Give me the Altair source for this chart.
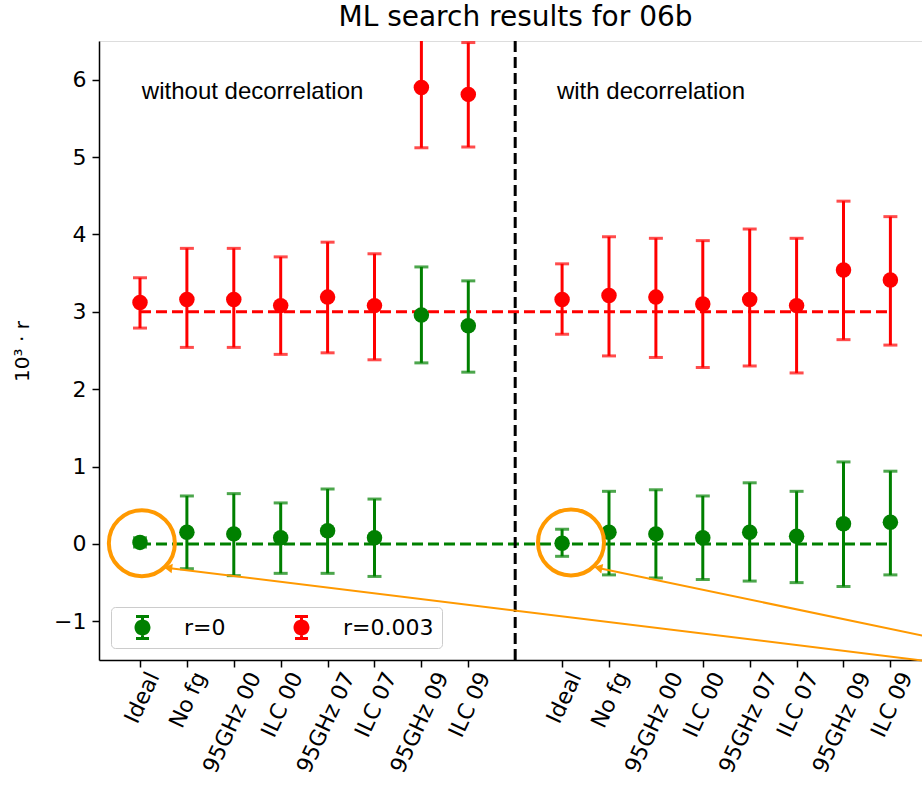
import json
import math
import altair as alt
import pandas as pd

# ---------------- data ----------------
title_text = "ML search results for 06b"
labels = ["Ideal", "No fg", "95GHz 00", "ILC 00", "95GHz 07", "ILC 07", "95GHz 09", "ILC 09"]
groups = ["without decorrelation", "with decorrelation"]
series = ["r=0", "r=0.003"]
true_r = [0.0, 3.0]

# without decorrelation
r0_wo = [0.02, 0.15, 0.13, 0.08, 0.17, 0.08, 2.96, 2.82]
r0_wo_lo = [-0.04, -0.32, -0.41, -0.38, -0.38, -0.42, 2.34, 2.22]
r0_wo_hi = [0.08, 0.62, 0.65, 0.53, 0.71, 0.58, 3.58, 3.40]
r3_wo = [3.12, 3.16, 3.16, 3.08, 3.19, 3.08, 5.90, 5.81]
r3_wo_lo = [2.79, 2.54, 2.54, 2.45, 2.47, 2.38, 5.12, 5.13]
r3_wo_hi = [3.44, 3.82, 3.82, 3.71, 3.90, 3.75, 6.68, 6.48]

# with decorrelation
r0_w = [0.01, 0.15, 0.13, 0.08, 0.15, 0.10, 0.26, 0.28]
r0_w_lo = [-0.16, -0.40, -0.44, -0.46, -0.48, -0.50, -0.55, -0.40]
r0_w_hi = [0.19, 0.68, 0.70, 0.62, 0.79, 0.68, 1.06, 0.94]
r3_w = [3.16, 3.21, 3.19, 3.10, 3.16, 3.08, 3.54, 3.41]
r3_w_lo = [2.71, 2.43, 2.41, 2.28, 2.30, 2.21, 2.64, 2.57]
r3_w_hi = [3.62, 3.97, 3.95, 3.92, 4.07, 3.95, 4.43, 4.23]

pos_left = list(range(8))
pos_right = [9 + i for i in range(8)]
divider_pos = 8

# annotation (orange highlight) anchors in data coordinates
circ_x = [0.04, 9.19]
circ_y = [0.01, 0.02]
arrow_tip_x = [0.60, 9.77]
arrow_tip_y = [-0.31, -0.31]
arrow_tail_x = [16.72, 16.72]
arrow_tail_y = [-1.51, -1.19]
group_text_x = [0.04, 8.89]
group_text_y = [5.75, 5.75]

# ---------------- layout ----------------
W, H = 823, 619
PX_PER_X = 46.9
XD = [-0.874, -0.874 + W / PX_PER_X]
YD = [-1.5, 6.5]
GREEN, RED, ORANGE = "#008000", "#ff0000", "#ff9900"
FONT = "DejaVu Sans"

rows = []
blocks = [
    (pos_left, r0_wo, r0_wo_lo, r0_wo_hi, r3_wo, r3_wo_lo, r3_wo_hi),
    (pos_right, r0_w, r0_w_lo, r0_w_hi, r3_w, r3_w_lo, r3_w_hi),
]
for positions, a, alo, ahi, b, blo, bhi in blocks:
    for i, p in enumerate(positions):
        rows.append({"pos": p, "series": series[0], "val": a[i], "lo": alo[i], "hi": ahi[i]})
for positions, a, alo, ahi, b, blo, bhi in blocks:
    for i, p in enumerate(positions):
        rows.append({"pos": p, "series": series[1], "val": b[i], "lo": blo[i], "hi": bhi[i]})
df = pd.DataFrame(rows)

lab_js = json.dumps(labels)
idx_js = "(datum.value < 8 ? datum.value : datum.value - 9)"

xscale = alt.Scale(domain=XD, nice=False, zero=False)
yscale = alt.Scale(domain=YD, nice=False, zero=False)

xaxis = alt.Axis(
    values=pos_left + pos_right,
    labelExpr=f"{lab_js}[{idx_js}]",
    labelAngle=295,
    labelAlign="right",
    labelBaseline="middle",
    labelOffset=alt.ExprRef(expr=f"2.6 * length({lab_js}[{idx_js}])"),
    labelPadding=6,
    labelFlush=False,
    labelOverlap=False,
    labelBound=False,
    labelFont=FONT,
    labelFontSize=22,
    labelColor="black",
    tickSize=7,
    tickWidth=1.5,
    tickColor="black",
    domainColor="black",
    domainWidth=1.5,
    grid=False,
    title=None,
)
yaxis = alt.Axis(
    values=list(range(-1, 7)),
    labelFont=FONT,
    labelFontSize=22,
    labelColor="black",
    labelPadding=6,
    tickSize=7,
    tickWidth=1.5,
    tickColor="black",
    domainColor="black",
    domainWidth=1.5,
    grid=False,
    title="10³ · r",
    titleFont=FONT,
    titleFontSize=20,
    titleFontWeight="normal",
    titleColor="black",
    titleAngle=270,
    titleAlign="center",
    titleBaseline="middle",
    titleX=-77,
    titleY=310,
)

SYMBOL = (
    "M-0.12,-1L0.12,-1L0.12,1L-0.12,1Z"
    "M-0.52,-1L0.52,-1L0.52,-0.76L-0.52,-0.76Z"
    "M-0.52,0.76L0.52,0.76L0.52,1L-0.52,1Z"
    "M0.64,0A0.64,0.64,0,1,1,-0.64,0A0.64,0.64,0,1,1,0.64,0Z"
)
legend = alt.Legend(
    title=None,
    orient="none",
    legendX=12,
    legendY=566,
    direction="horizontal",
    columns=2,
    symbolType=SYMBOL,
    symbolSize=625,
    symbolStrokeWidth=0,
    symbolOpacity=1,
    symbolOffset=11,
    labelOffset=29,
    columnPadding=52,
    padding=8,
    labelFont=FONT,
    labelFontSize=22,
    labelColor="black",
    fillColor="rgba(255,255,255,0.8)",
    strokeColor="#cccccc",
    cornerRadius=4,
)
color_scale = alt.Scale(domain=series, range=[GREEN, RED])


def color(leg=None):
    if leg is None:
        return alt.Color("series:N", scale=color_scale, legend=None)
    return alt.Color("series:N", scale=color_scale, legend=leg)


def X(field):
    return alt.X(field, type="quantitative", scale=xscale, axis=xaxis, title=None)


def Y(field):
    return alt.Y(field, type="quantitative", scale=yscale, axis=yaxis)


base = alt.Chart(df)

# reference lines r = 0 and r = 0.003
hdf = pd.DataFrame({"series": series, "y": true_r,
                    "x0": [pos_left[0]] * 2, "x1": [pos_right[-1]] * 2})
hlines = alt.Chart(hdf).mark_rule(strokeDash=[11, 5], strokeWidth=3).encode(
    x=X("x0"), x2="x1", y=Y("y"), color=color()
)

bars = base.mark_rule(strokeWidth=3, clip=True).encode(
    x=X("pos"), y=Y("lo"), y2="hi", color=color()
)
cap_lo = base.mark_tick(orient="horizontal", size=14, thickness=3, clip=True).encode(
    x=X("pos"), y=Y("lo"), color=color()
)
cap_hi = base.mark_tick(orient="horizontal", size=14, thickness=3, clip=True).encode(
    x=X("pos"), y=Y("hi"), color=color()
)
points = base.mark_point(shape="circle", filled=True, size=240, opacity=1, clip=True).encode(
    x=X("pos"), y=Y("val"), color=color(legend)
)

vdf = pd.DataFrame({"x": [divider_pos], "y0": [YD[0]], "y1": [YD[1]]})
vline = alt.Chart(vdf).mark_rule(color="black", strokeDash=[11, 5], strokeWidth=3).encode(
    x=X("x"), y=Y("y0"), y2="y1"
)

tdf = pd.DataFrame({"x": group_text_x, "y": group_text_y, "text": groups})
gtext = alt.Chart(tdf).mark_text(
    align="left", baseline="alphabetic", font="Liberation Sans", fontSize=24, color="black"
).encode(x=X("x"), y=Y("y"), text="text:N")

cdf = pd.DataFrame({"x": circ_x, "y": circ_y})
circles = alt.Chart(cdf).mark_point(
    shape="circle", filled=False, size=4356, stroke=ORANGE, strokeWidth=4, opacity=1
).encode(x=X("x"), y=Y("y"))

adf = pd.DataFrame({"x": arrow_tip_x, "y": arrow_tip_y, "x2": arrow_tail_x, "y2": arrow_tail_y})
arrows = alt.Chart(adf).mark_rule(color=ORANGE, strokeWidth=2, clip=False).encode(
    x=X("x"), y=Y("y"), x2="x2", y2="y2"
)

px_y = H / (YD[1] - YD[0])
px_x = W / (XD[1] - XD[0])
heads = []
for i in range(len(arrow_tip_x)):
    dxp = (arrow_tail_x[i] - arrow_tip_x[i]) * px_x
    dyp = (arrow_tip_y[i] - arrow_tail_y[i]) * px_y
    ang = math.degrees(math.atan2(dyp, dxp))
    hd = pd.DataFrame({"x": [arrow_tip_x[i]], "y": [arrow_tip_y[i]]})
    heads.append(
        alt.Chart(hd).mark_point(
            shape="triangle-left", filled=True, size=90, color=ORANGE, opacity=1, angle=ang
        ).encode(x=X("x"), y=Y("y"))
    )

chart = alt.layer(
    hlines, bars, cap_lo, cap_hi, points, vline, gtext, circles, arrows, *heads
).resolve_legend(
    color="independent"
).properties(
    width=W,
    height=H,
    title=alt.TitleParams(
        title_text, font=FONT, fontSize=28, fontWeight="normal", color="black",
        anchor="middle", frame="group", offset=12, baseline="alphabetic", dx=5, dy=26,
    ),
    padding={"left": 99, "top": 41, "right": 0, "bottom": 125},
    autosize=alt.AutoSizeParams(type="none"),
).configure_view(
    stroke="black", strokeWidth=1.5
).configure(
    font=FONT, background="white"
)

chart.save("out.html", embed_options={"renderer": "svg", "actions": False})
